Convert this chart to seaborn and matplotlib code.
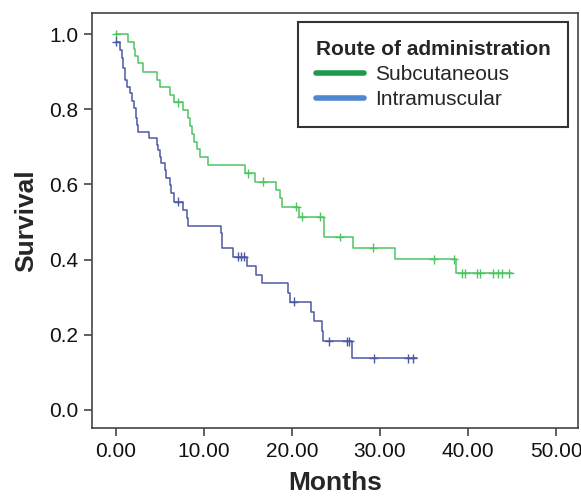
import numpy as np
import pandas as pd
import matplotlib
matplotlib.use("Agg")
import matplotlib.pyplot as plt
import seaborn as sns
from matplotlib.lines import Line2D

groups = ["Subcutaneous", "Intramuscular"]

sc_times = [0, 1.4, 2.0, 2.2, 2.5, 3.1, 4.6, 5.0, 6.1, 6.6, 7.65, 8.2, 8.4, 8.6, 8.9,
            9.2, 9.5, 10.5, 14.7, 15.8, 18.2, 18.6, 18.9, 20.8, 23.6, 26.9, 31.7, 38.6, 45.0]
sc_surv = [1.0, 0.98, 0.96, 0.941, 0.922, 0.90, 0.878, 0.86, 0.838, 0.818, 0.798, 0.777, 0.756, 0.735, 0.714,
           0.694, 0.674, 0.652, 0.63, 0.607, 0.585, 0.563, 0.541, 0.514, 0.46, 0.432, 0.401, 0.364, 0.364]
sc_censor = [0.0, 7.0, 15.0, 16.7, 20.5, 21.1, 23.2, 25.4, 29.2, 36.1, 38.4,
             39.3, 39.7, 41.0, 41.4, 42.8, 43.4, 43.9, 44.7]

im_times = [0, 0.45, 0.65, 0.83, 1.0, 1.3, 1.6, 1.8, 2.0, 2.3, 2.4, 2.5, 3.7, 4.6, 4.8,
            5.0, 5.1, 5.6, 5.7, 6.1, 6.3, 6.6, 7.6, 8.1, 8.2, 11.9, 12.0, 12.1, 13.3, 14.85,
            15.9, 16.55, 19.5, 19.8, 22.2, 22.5, 23.4, 23.5, 26.8, 34.2]
im_surv = [0.98, 0.957, 0.935, 0.909, 0.878, 0.86, 0.842, 0.822, 0.802, 0.776, 0.758, 0.74, 0.723, 0.705, 0.691,
           0.674, 0.656, 0.638, 0.616, 0.598, 0.576, 0.554, 0.532, 0.51, 0.489, 0.472, 0.451, 0.43, 0.408, 0.383,
           0.359, 0.337, 0.31, 0.288, 0.261, 0.237, 0.21, 0.183, 0.137, 0.137]
im_censor = [0.0, 7.1, 13.9, 14.2, 14.5, 20.2, 24.2, 26.2, 26.5, 29.3, 33.2, 33.7]

x_ticks = [0, 10, 20, 30, 40, 50]
x_ticklabels = ["0.00", "10.00", "20.00", "30.00", "40.00", "50.00"]
y_ticks = [0.0, 0.2, 0.4, 0.6, 0.8, 1.0]
y_ticklabels = ["0.0", "0.2", "0.4", "0.6", "0.8", "1.0"]

line_colors = {"Subcutaneous": "#4fc463", "Intramuscular": "#4d58a4"}
legend_colors = {"Subcutaneous": "#1f9a4c", "Intramuscular": "#4f86cf"}

# Build tables
curve = pd.concat([
    pd.DataFrame({"t": sc_times, "S": sc_surv, "group": groups[0]}),
    pd.DataFrame({"t": im_times, "S": im_surv, "group": groups[1]}),
], ignore_index=True)


def step_value(times, surv, ct):
    idx = np.searchsorted(np.asarray(times), ct, side="right") - 1
    return np.asarray(surv)[np.clip(idx, 0, None)]


cens = pd.concat([
    pd.DataFrame({"t": sc_censor, "S": step_value(sc_times, sc_surv, sc_censor), "group": groups[0]}),
    pd.DataFrame({"t": im_censor, "S": step_value(im_times, im_surv, im_censor), "group": groups[1]}),
], ignore_index=True)

sns.set_style("white")
plt.rcParams["font.family"] = ["Liberation Sans", "DejaVu Sans"]

fig = plt.figure(figsize=(5.81, 4.97), dpi=100)
ax = fig.add_axes([92 / 581, 1 - 428 / 497, (578 - 92) / 581, (428 - 13) / 497])

sns.lineplot(data=curve, x="t", y="S", hue="group", palette=line_colors,
             drawstyle="steps-post", estimator=None, sort=False, legend=False,
             linewidth=1.1, ax=ax)
sns.scatterplot(data=cens, x="t", y="S", hue="group", palette=line_colors,
                marker="+", s=40, linewidth=1.0, legend=False, ax=ax, zorder=3)

ax.set_xlim(-2.73, 52.5)
ax.set_ylim(-0.048, 1.056)
ax.set_xticks(x_ticks)
ax.set_xticklabels(x_ticklabels)
ax.set_yticks(y_ticks)
ax.set_yticklabels(y_ticklabels)
ax.tick_params(axis="both", which="major", direction="out", length=6, width=1.2,
               color="#444444", labelsize=15, labelcolor="#111111", pad=4,
               bottom=True, left=True)
for sp in ax.spines.values():
    sp.set_color("#444444")
    sp.set_linewidth(1.2)
    sp.set_visible(True)

ax.set_xlabel("Months", fontsize=19, fontweight="bold", labelpad=7)
ax.set_ylabel("Survival", fontsize=19, fontweight="bold", labelpad=8)

handles = [Line2D([0], [0], color=legend_colors[g], lw=4) for g in groups]
leg = ax.legend(handles, groups, title="Route of administration",
                loc="upper left", bbox_to_anchor=(298 / 581, 1 - 22 / 497),
                bbox_transform=fig.transFigure, borderaxespad=0,
                fontsize=15, title_fontproperties={"weight": "bold", "size": 15},
                frameon=True, fancybox=False, edgecolor="black",
                handlelength=2.3, handletextpad=0.55, borderpad=0.85,
                labelspacing=0.3)
leg.get_frame().set_linewidth(1.5)
leg._legend_box.align = "left"

fig.savefig("out.png", dpi=100)
